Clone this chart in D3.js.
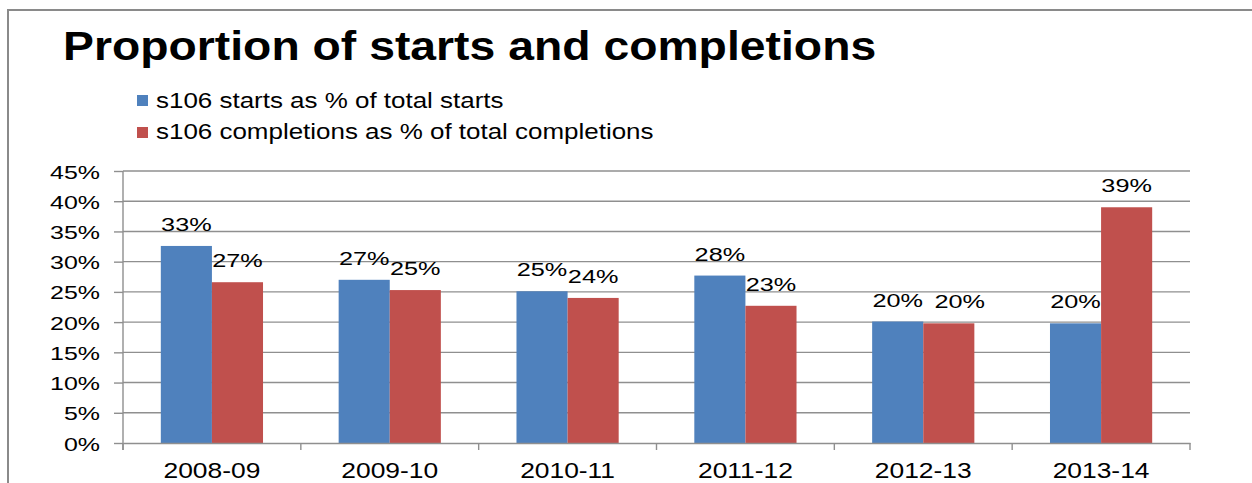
<!DOCTYPE html>
<html>
<head>
<meta charset="utf-8">
<script src="https://cdn.jsdelivr.net/npm/d3@7"></script>
<style>
  body { margin: 0; background: #fff; }
  svg { display: block; }
  text { font-family: "Liberation Sans", Arial, sans-serif; fill: #000; }
</style>
</head>
<body>
<div id="chart"></div>
<script>
// data
var years = ["2008-09", "2009-10", "2010-11", "2011-12", "2012-13", "2013-14"];
var seriesNames = ["s106 starts as % of total starts", "s106 completions as % of total completions"];
var starts = [0.326, 0.270, 0.251, 0.277, 0.201, 0.198];
var completions = [0.266, 0.253, 0.240, 0.227, 0.198, 0.390];
var yTicks = [0, 0.05, 0.10, 0.15, 0.20, 0.25, 0.30, 0.35, 0.40, 0.45];
var colors = ["#4F81BD", "#C0504D"];

var W = 1252, H = 483;
var plot = {left: 123, right: 1190, top: 171, bottom: 443};

var svg = d3.select("#chart").append("svg")
    .attr("width", W)
    .attr("height", H);

// outer frame (runs off right and bottom)
svg.append("rect")
    .attr("x", 8).attr("y", 10)
    .attr("width", W + 20).attr("height", H + 20)
    .attr("fill", "none")
    .attr("stroke", "#8a8a8a")
    .attr("stroke-width", 2);

// stretched text helper (source picture is wider than normal)
function stext(g, x, y, str, size, sx, anchor, weight) {
  return g.append("text")
      .attr("transform", "translate(" + x + "," + y + ") scale(" + sx + ",1)")
      .attr("text-anchor", anchor || "start")
      .style("font-size", size + "px")
      .style("font-weight", weight || "normal")
      .text(str);
}

// title
stext(svg, 63, 60, "Proportion of starts and completions", 41, 1.13, "start", "bold");

// legend
var legend = svg.append("g");
seriesNames.forEach(function(name, i) {
  legend.append("rect")
      .attr("x", 137).attr("y", 95 + i * 32)
      .attr("width", 11).attr("height", 11)
      .attr("fill", colors[i]);
  stext(legend, 156, 108 + i * 31, name, 22, 1.18);
});

// scales
var x0 = d3.scaleBand()
    .domain(years)
    .range([plot.left, plot.right])
    .padding(0);

var x1 = d3.scaleBand()
    .domain([0, 1])
    .range([0, x0.bandwidth()])
    .paddingInner(0)
    .paddingOuter(0.74);

var y = d3.scaleLinear()
    .domain([0, 0.45])
    .range([plot.bottom, plot.top]);

// gridlines
svg.append("g")
  .selectAll("line")
  .data(yTicks.slice(1))
  .enter().append("line")
    .attr("x1", plot.left).attr("x2", plot.right)
    .attr("y1", function(d) { return y(d); })
    .attr("y2", function(d) { return y(d); })
    .attr("stroke", "#8f8f8f")
    .attr("stroke-width", 1.4);

// y axis
var yAxis = svg.append("g")
    .attr("transform", "translate(" + plot.left + ",0)")
    .call(d3.axisLeft(y).tickValues(yTicks).tickSize(9).tickSizeOuter(0).tickFormat(d3.format(".0%")));
yAxis.select(".domain").remove();
yAxis.selectAll(".tick line").attr("stroke", "#8f8f8f").attr("stroke-width", 1.4);
yAxis.selectAll(".tick text")
    .attr("x", null).attr("dy", null)
    .attr("font-family", null).attr("font-size", null)
    .attr("transform", "translate(-23,7) scale(1.35,1)")
    .style("font-size", "18.5px");
svg.append("line")
    .attr("x1", plot.left).attr("x2", plot.left)
    .attr("y1", plot.top).attr("y2", plot.bottom + 7)
    .attr("stroke", "#8f8f8f").attr("stroke-width", 1.4);

// bars
var groups = svg.append("g")
  .selectAll("g")
  .data(years)
  .enter().append("g")
    .attr("transform", function(d) { return "translate(" + x0(d) + ",0)"; });

groups.selectAll("rect")
  .data(function(d, i) { return [starts[i], completions[i]]; })
  .enter().append("rect")
    .attr("x", function(d, j) { return x1(j); })
    .attr("y", function(d) { return y(d); })
    .attr("width", x1.bandwidth())
    .attr("height", function(d) { return y(0) - y(d); })
    .attr("fill", function(d, j) { return colors[j]; });

// value labels, second one nudged right when both sit at the same height
groups.each(function(d, i) {
  var g = d3.select(this);
  var vals = [starts[i], completions[i]];
  vals.forEach(function(v, j) {
    var nudge = (j === 1 && Math.abs(y(vals[0]) - y(v)) < 6) ? 11 : 0;
    stext(g, x1(j) + x1.bandwidth() / 2 + nudge, y(v) - 15, Math.round(v * 100) + "%", 19, 1.33, "middle");
  });
});

// x axis
var xAxis = svg.append("g")
    .attr("transform", "translate(0," + plot.bottom + ")")
    .call(d3.axisBottom(x0).tickSize(0));
xAxis.select(".domain").attr("stroke", "#8f8f8f").attr("stroke-width", 1.6);
xAxis.selectAll(".tick text").remove();
years.forEach(function(yr) {
  stext(xAxis, x0(yr) + x0.bandwidth() / 2, 35, yr, 22, 1.2, "middle");
});
// category boundary ticks
xAxis.selectAll(".bound")
  .data(years.concat(["end"]))
  .enter().append("line")
    .attr("x1", function(d, i) { return plot.left + i * x0.step(); })
    .attr("x2", function(d, i) { return plot.left + i * x0.step(); })
    .attr("y1", 0).attr("y2", 7)
    .attr("stroke", "#8f8f8f").attr("stroke-width", 1.4);
</script>
</body>
</html>
